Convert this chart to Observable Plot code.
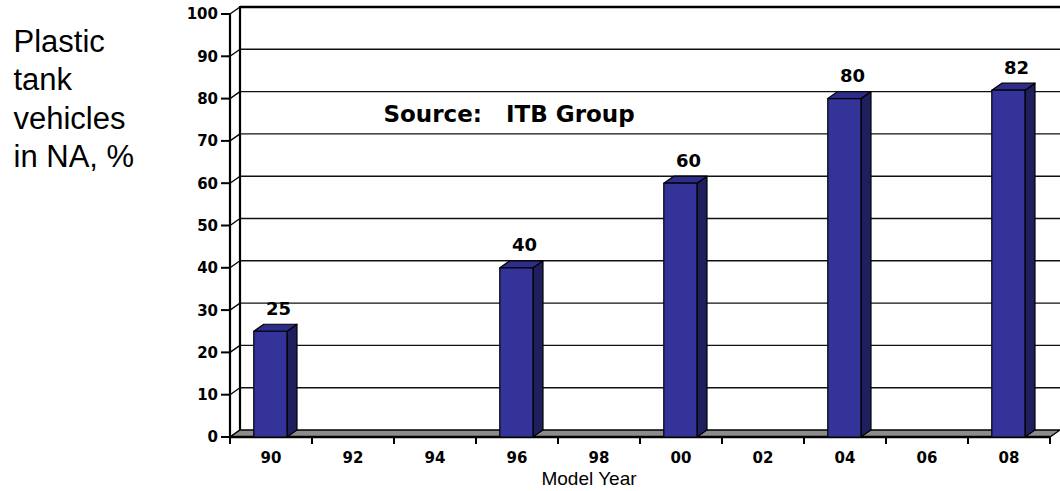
<!DOCTYPE html>
<html>
<head>
<meta charset="utf-8">
<script src="https://cdn.jsdelivr.net/npm/d3@7"></script>
<script src="https://cdn.jsdelivr.net/npm/@observablehq/plot@0.6"></script>
<style>
  html, body { margin: 0; background: #fff; }
  #chart svg { display: block; }
</style>
</head>
<body>
<div id="chart"></div>
<script>
// Model years on the category axis and the share of vehicles with plastic tanks
const years = ["90", "92", "94", "96", "98", "00", "02", "04", "06", "08"];
const barYears = ["90", "96", "00", "04", "08"];
const shares = [25, 40, 60, 80, 82];
const yTicks = [0, 10, 20, 30, 40, 50, 60, 70, 80, 90, 100];
const sideTitle = "Plastic\ntank\nvehicles\nin NA, %";
const sourceNote = "Source:\u00a0\u00a0\u00a0ITB Group";
const xTitle = "Model Year";

const bars = barYears.map((year, i) => ({year, share: shares[i]}));

// depth of the pseudo-3D box, in pixels
const DX = 10, DY = 7;
const BOLD_FONT = "DejaVu Sans, Verdana, sans-serif";
const SANS = "Liberation Sans, Arial, Helvetica, sans-serif";

const poly = pts => "M" + pts.map(p => p.join(",")).join("L") + "Z";

function frame(x, y) {
  const step = x(years[1]) - x(years[0]);
  const left = x(years[0]);
  const right = x(years[years.length - 1]) + step;
  return {step, left, right, y0: y(0), yTop: y(100)};
}

// back wall, left wall, floor and both axes
function box(index, scales) {
  const {x, y} = scales;
  const {step, left, right, y0, yTop} = frame(x, y);
  const g = d3.create("svg:g");

  // back-wall gridlines
  g.append("g").selectAll("line")
    .data(yTicks.filter(v => v > 0))
    .join("line")
      .attr("x1", left + DX).attr("x2", right + DX)
      .attr("y1", v => y(v) - DY).attr("y2", v => y(v) - DY)
      .attr("stroke", v => v === 100 ? "#000" : "#111")
      .attr("stroke-width", v => v === 100 ? 2.5 : 1.4);

  // left wall: diagonals at each tick and the two vertical edges
  g.append("g").selectAll("line")
    .data(yTicks)
    .join("line")
      .attr("x1", left).attr("x2", left + DX)
      .attr("y1", v => y(v)).attr("y2", v => y(v) - DY)
      .attr("stroke", "#000").attr("stroke-width", 1.3);
  g.append("line")
    .attr("x1", left + DX).attr("x2", left + DX)
    .attr("y1", y0 - DY).attr("y2", yTop - DY - 1)
    .attr("stroke", "#000").attr("stroke-width", 2.2);

  // floor
  g.append("path")
    .attr("d", poly([[left, y0], [right, y0], [right + DX, y0 - DY], [left + DX, y0 - DY]]))
    .attr("fill", "#8c8c8c").attr("stroke", "#000").attr("stroke-width", 1.3);
  g.append("line")
    .attr("x1", left).attr("x2", right)
    .attr("y1", y0).attr("y2", y0)
    .attr("stroke", "#000").attr("stroke-width", 2.5);

  // front vertical axis
  g.append("line")
    .attr("x1", left).attr("x2", left)
    .attr("y1", y0 + 1).attr("y2", yTop)
    .attr("stroke", "#000").attr("stroke-width", 2.2);
  g.append("g").selectAll("line")
    .data(yTicks)
    .join("line")
      .attr("x1", left - 9).attr("x2", left)
      .attr("y1", v => y(v)).attr("y2", v => y(v))
      .attr("stroke", "#000").attr("stroke-width", 2);
  g.append("g")
      .attr("font-family", BOLD_FONT).attr("font-weight", "bold").attr("font-size", 15)
      .attr("text-anchor", "end")
    .selectAll("text")
    .data(yTicks)
    .join("text")
      .attr("x", left - 12).attr("y", v => y(v)).attr("dy", "0.36em")
      .text(v => v);

  // category axis: ticks on band edges, labels in band centres
  const edges = years.map(d => x(d)).concat([right]);
  g.append("g").selectAll("line")
    .data(edges)
    .join("line")
      .attr("x1", d => d).attr("x2", d => d)
      .attr("y1", y0).attr("y2", y0 + 7)
      .attr("stroke", "#000").attr("stroke-width", 2);
  g.append("g")
      .attr("font-family", BOLD_FONT).attr("font-weight", "bold").attr("font-size", 15)
      .attr("text-anchor", "middle")
    .selectAll("text")
    .data(years)
    .join("text")
      .attr("x", d => x(d) + step / 2).attr("y", y0 + 26)
      .text(d => d);
  return g.node();
}

// extruded columns: front, side and top faces
function columns(index, scales) {
  const {x, y} = scales;
  const {step, y0} = frame(x, y);
  const g = d3.create("svg:g")
    .attr("stroke", "#000").attr("stroke-width", 1.2).attr("stroke-linejoin", "round");
  for (const d of bars) {
    const x0 = x(d.year) + step * 0.29;
    const x1 = x0 + step * 0.405;
    const yt = y(d.share);
    g.append("path")
      .attr("d", poly([[x1, y0], [x1, yt], [x1 + DX, yt - DY], [x1 + DX, y0 - DY]]))
      .attr("fill", "#1f1f5e");
    g.append("path")
      .attr("d", poly([[x0, yt], [x1, yt], [x1 + DX, yt - DY], [x0 + DX, yt - DY]]))
      .attr("fill", "#2e2e8a");
    g.append("path")
      .attr("d", poly([[x0, y0], [x1, y0], [x1, yt], [x0, yt]]))
      .attr("fill", "#333399");
  }
  return g.node();
}

const chart = Plot.plot({
  width: 1060,
  height: 491,
  marginLeft: 227,
  marginRight: 8,
  marginTop: 14,
  marginBottom: 54,
  style: {background: "#fff", overflow: "visible", fontFamily: SANS},
  x: {type: "band", domain: years, padding: 0, axis: null},
  y: {domain: [0, 100], axis: null},
  marks: [
    box,
    columns,
    Plot.text(bars, {
      x: "year", y: "share", text: d => String(d.share),
      dx: 7, dy: -17, lineAnchor: "bottom",
      fontFamily: BOLD_FONT, fontWeight: "bold", fontSize: 18, fill: "#000"
    }),
    Plot.text([sourceNote], {
      frameAnchor: "top-left", dx: 156, dy: 107, lineAnchor: "bottom", textAnchor: "start",
      fontFamily: BOLD_FONT, fontWeight: "bold", fontSize: 23, fill: "#000"
    }),
    Plot.text([xTitle], {
      frameAnchor: "bottom", dx: -51, dy: 47, lineAnchor: "bottom",
      fontFamily: SANS, fontSize: 19, fill: "#000"
    }),
    Plot.text([sideTitle], {
      frameAnchor: "top-left", dx: -214, dy: 10, lineAnchor: "top", textAnchor: "start",
      lineHeight: 1.24, fontFamily: SANS, fontSize: 31, fill: "#000"
    })
  ]
});

document.getElementById("chart").append(chart);
</script>
</body>
</html>
